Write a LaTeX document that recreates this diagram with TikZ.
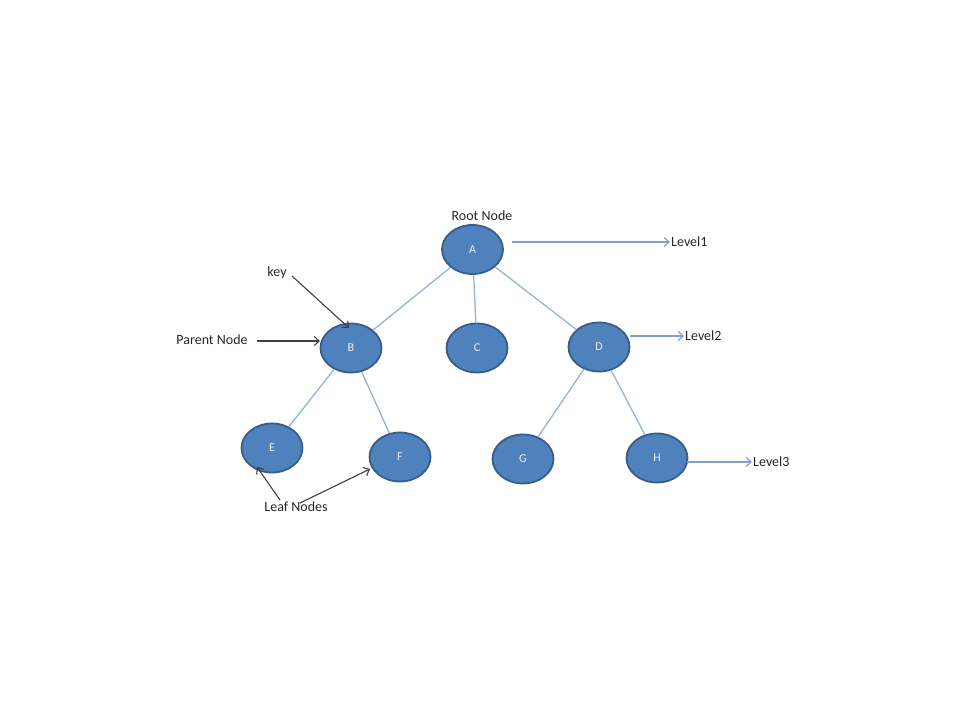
\documentclass[tikz,border=0pt]{standalone}
\usepackage{fontspec}
\setmainfont{Carlito}
\usetikzlibrary{shapes.geometric,arrows.meta}
\definecolor{nodefill}{HTML}{4F81BD}
\definecolor{nodeedge}{HTML}{385D8A}
\definecolor{linkblue}{HTML}{95B3D7}
\definecolor{levelblue}{HTML}{7FA1D0}
\definecolor{pointer}{HTML}{404040}
\begin{document}
\begin{tikzpicture}[x=1pt,y=-1pt,
  treenode/.style={ellipse,draw=nodeedge,line width=1.8pt,fill=nodefill,
    minimum width=61pt,minimum height=49pt,inner sep=0pt,
    font=\fontsize{12}{12}\selectfont,text=white!88!nodefill},
  link/.style={draw=linkblue,line width=1.3pt},
  levelarrow/.style={draw=levelblue,line width=1.2pt,-{Straight Barb[length=5pt,width=9pt]}},
  pointerarrow/.style={draw=pointer,line width=1.1pt,-{Straight Barb[length=5pt,width=9pt]}},
  caption/.style={font=\fontsize{14}{14}\selectfont,text=black!85,inner sep=1pt}]
\useasboundingbox (0,0) rectangle (960,720);

% tree nodes
\node[treenode] (A) at (472.5,249.5) {A};
\node[treenode] (B) at (351,348) {B};
\node[treenode] (C) at (477,348) {C};
\node[treenode] (D) at (599,347) {D};
\node[treenode] (E) at (272,448) {E};
\node[treenode] (F) at (400,457) {F};
\node[treenode] (G) at (523,459) {G};
\node[treenode] (H) at (657,458) {H};

% parent-child links
\path[link] (A) -- (B);
\path[link] (A) -- (C);
\path[link] (A) -- (D);
\path[link] (B) -- (E);
\path[link] (B) -- (F);
\path[link] (D) -- (G);
\path[link] (D) -- (H);

% level markers
\node[caption,anchor=west] (L1) at (670,242) {Level1};
\node[caption,anchor=west] (L2) at (684,336) {Level2};
\node[caption,anchor=west] (L3) at (752,462) {Level3};
\coordinate (a1) at (512,242);
\coordinate (d1) at (630,336);
\coordinate (h1) at (687,462);
\draw[levelarrow] (a1) -- (L1.west);
\draw[levelarrow] (d1) -- (L2.west);
\draw[levelarrow] (h1) -- (L3.west);

% annotations
\node[caption] (root) at (482,216) {Root Node};
\node[caption] (key) at (277,273) {key};
\node[caption] (parent) at (212,340) {Parent Node};
\node[caption] (leaf) at (296,507) {Leaf Nodes};
\coordinate (keystart) at (292,276);
\coordinate (keytip) at (349,328);
\coordinate (parentstart) at (257,341);
\coordinate (parenttip) at (320,341);
\coordinate (leafE) at (280,500);
\coordinate (leafEtip) at (257,467);
\coordinate (leafF) at (300,503);
\coordinate (leafFtip) at (370,469);
\draw[pointerarrow] (keystart) -- (keytip);
\draw[pointerarrow] (parentstart) -- (parenttip);
\draw[pointerarrow] (leafE) -- (leafEtip);
\draw[pointerarrow] (leafF) -- (leafFtip);
\end{tikzpicture}
\end{document}
